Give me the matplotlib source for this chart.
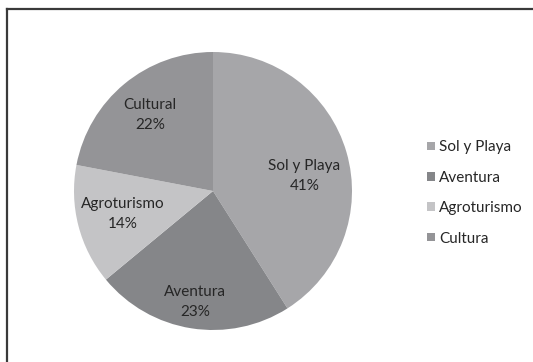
import matplotlib
matplotlib.use("Agg")
import matplotlib.pyplot as plt
from matplotlib.lines import Line2D
import numpy as np

# Tourism segments and their share (%)
categories = ["Sol y Playa", "Aventura", "Agroturismo", "Cultural"]
legend_labels = ["Sol y Playa", "Aventura", "Agroturismo", "Cultura"]
shares = [41, 23, 14, 22]
colors = ["#a6a6a9", "#858689", "#c4c4c6", "#949497"]
label_radius = [0.665, 0.81, 0.67, 0.71]
label_angle_shift = [-7, 0, 0, 0]

plt.rcParams["font.family"] = ["Lato", "DejaVu Sans"]
text_color = "#262626"

W, H, DPI = 533, 362, 100
fig = plt.figure(figsize=(W / DPI, H / DPI), dpi=DPI)
fig.patch.set_facecolor("white")

# Pie centred at (213, 191) px with radius 139 px
cx, cy, r = 213, 191, 139
ax = fig.add_axes([(cx - r) / W, (H - cy - r) / H, 2 * r / W, 2 * r / H])
wedges, _ = ax.pie(shares, colors=colors, startangle=90, counterclock=False,
                   radius=1.0, wedgeprops=dict(linewidth=0))
ax.set_xlim(-1, 1)
ax.set_ylim(-1, 1)
ax.set_aspect("equal")
ax.axis("off")

# Category name and percentage inside each slice
total = sum(shares)
start = 90.0
for name, val, rad, shift in zip(categories, shares, label_radius, label_angle_shift):
    sweep = 360.0 * val / total
    mid = np.deg2rad(start - sweep / 2 + shift)
    start -= sweep
    ax.text(rad * np.cos(mid), rad * np.sin(mid), f"{name}\n{val}%",
            ha="center", va="center", fontsize=11, color=text_color,
            linespacing=1.5)

# Legend on the right
leg = fig.legend(wedges, legend_labels, loc="center left",
                 bbox_to_anchor=(427 / W, 1 - 193 / H), frameon=False,
                 fontsize=11, handlelength=0.5, handleheight=0.5,
                 handletextpad=0.3, labelspacing=1.07, labelcolor=text_color,
                 borderpad=0, borderaxespad=0)

# Chart frame: top and left edges
lc = "#3a3a3a"
fig.add_artist(Line2D([7 / W, 1.0], [1 - 9 / H, 1 - 9 / H],
                      transform=fig.transFigure, color=lc, linewidth=1.6))
fig.add_artist(Line2D([7 / W, 7 / W], [0.0, 1 - 9 / H],
                      transform=fig.transFigure, color=lc, linewidth=1.6))

fig.savefig("out.png", dpi=DPI)
